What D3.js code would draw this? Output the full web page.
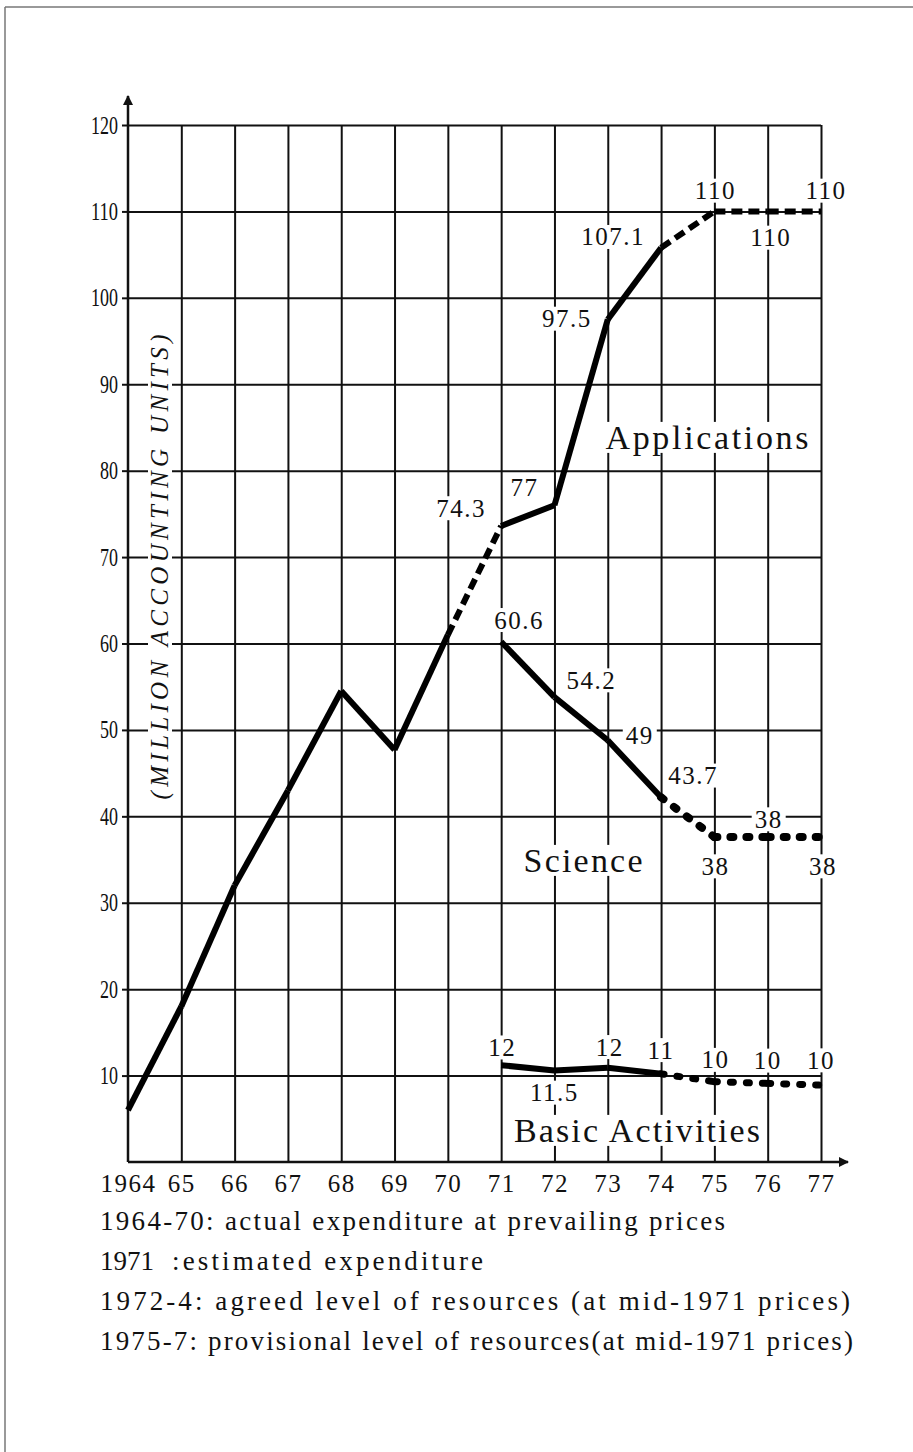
<!DOCTYPE html>
<html>
<head>
<meta charset="utf-8">
<script src="https://cdn.jsdelivr.net/npm/d3@7"></script>
<style>
  body { margin: 0; background: #fff; }
  svg { display: block; }
  text { font-family: "Liberation Serif", "DejaVu Serif", serif; fill: #111; }
</style>
</head>
<body>
<div id="chart"></div>
<script>
// ---- data ----
const years = [1964, 1965, 1966, 1967, 1968, 1969, 1970, 1971, 1972, 1973, 1974, 1975, 1976, 1977];
const yearLabels = ["1964", "65", "66", "67", "68", "69", "70", "71", "72", "73", "74", "75", "76", "77"];
const yTicks = [10, 20, 30, 40, 50, 60, 70, 80, 90, 100, 110, 120];

const applications = [6, 18, 32, 43, 54.5, 47.7, 61, 73.6, 76, 97.5, 105.8, 110, 110, 110];
// style of each stretch between two years: s = solid, d = dashed, o = dotted
const applicationsStyle = ["s", "s", "s", "s", "s", "s", "d", "s", "s", "s", "d", "d", "d"];

const laterYears = [1971, 1972, 1973, 1974, 1975, 1976, 1977];
const science = [60.2, 53.8, 48.8, 42.2, 37.6, 37.6, 37.6];
const scienceStyle = ["s", "s", "s", "o", "o", "o"];
const basic = [11.2, 10.6, 10.9, 10.2, 9.3, 9.1, 8.9];
const basicStyle = ["s", "s", "s", "o", "o", "o"];

// value labels: [year, text]
const applicationsLabels = [[1971, "74.3"], [1972, "77"], [1973, "97.5"], [1974, "107.1"], [1975, "110"], [1976, "110"], [1977, "110"]];
const scienceLabels = [[1971, "60.6"], [1972, "54.2"], [1973, "49"], [1974, "43.7"], [1975, "38"], [1976, "38"], [1977, "38"]];
const basicLabels = [[1971, "12"], [1972, "11.5"], [1973, "12"], [1974, "11"], [1975, "10"], [1976, "10"], [1977, "10"]];

const notes = [
    "1964-70: actual expenditure at prevailing prices",
    "1972-4: agreed level of resources (at mid-1971 prices)",
    "1975-7: provisional level of resources(at mid-1971 prices)"
];

// ---- layout ----
var width = 913, height = 1452
var plotLeft = 128, plotRight = 821, plotTop = 125, plotBottom = 1162

var x = d3.scaleLinear().domain([1964, 1977]).range([plotLeft, plotRight])
var y = d3.scaleLinear().domain([0, 120]).range([plotBottom, plotTop])

var svg = d3.select("#chart").append("svg")
    .attr("width", width)
    .attr("height", height)

svg.append("rect").attr("width", width).attr("height", height).attr("fill", "#fff")

// page border (top and left only, like the scan)
svg.append("line").attr("x1", 5).attr("y1", 7).attr("x2", width).attr("y2", 7)
    .attr("stroke", "#777").attr("stroke-width", 1.5)
svg.append("line").attr("x1", 5).attr("y1", 7).attr("x2", 5).attr("y2", height)
    .attr("stroke", "#777").attr("stroke-width", 1.5)

// grid
svg.append("g")
    .attr("transform", "translate(" + plotLeft + ",0)")
    .call(d3.axisLeft(y).tickValues(yTicks).tickSize(-(plotRight - plotLeft)).tickFormat(""))
    .call(g => g.select(".domain").remove())
    .selectAll("line").attr("stroke", "#111").attr("stroke-width", 2)

svg.append("g")
    .attr("transform", "translate(0," + plotBottom + ")")
    .call(d3.axisBottom(x).tickValues(years.slice(1)).tickSize(-(plotBottom - plotTop)).tickFormat(""))
    .call(g => g.select(".domain").remove())
    .selectAll("line").attr("stroke", "#111").attr("stroke-width", 2)

// white box behind a text so the grid breaks around it
function knockout(parent, textSel, pad) {
    var b = textSel.node().getBBox()
    parent.insert("rect", function () { return textSel.node() })
        .attr("x", b.x - pad).attr("y", b.y + pad * 0.5)
        .attr("width", b.width + 2 * pad).attr("height", b.height - pad)
        .attr("fill", "#fff")
}

// axes with arrows
svg.append("defs").append("marker")
    .attr("id", "arrow").attr("viewBox", "0 0 10 10")
    .attr("refX", 9).attr("refY", 5)
    .attr("markerWidth", 5).attr("markerHeight", 4)
    .attr("orient", "auto")
    .append("path").attr("d", "M0,0L10,5L0,10z").attr("fill", "#111")

svg.append("line").attr("x1", plotLeft).attr("y1", plotBottom).attr("x2", plotLeft).attr("y2", 96)
    .attr("stroke", "#111").attr("stroke-width", 2.5).attr("marker-end", "url(#arrow)")
svg.append("line").attr("x1", plotLeft).attr("y1", plotBottom).attr("x2", 848).attr("y2", plotBottom)
    .attr("stroke", "#111").attr("stroke-width", 2.5).attr("marker-end", "url(#arrow)")

// tick labels (narrow, tall digits like the scan)
var yAxis = svg.append("g")
    .attr("transform", "translate(" + plotLeft + ",0)")
    .call(d3.axisLeft(y).tickValues(yTicks).tickSize(6).tickPadding(4))
yAxis.select(".domain").remove()
yAxis.selectAll("line").attr("stroke", "#111").attr("stroke-width", 2)
yAxis.selectAll("text")
    .attr("fill", "#111")
    .attr("textLength", d => String(d).length * 9)
    .attr("lengthAdjust", "spacingAndGlyphs")
    .style("font-family", '"Liberation Serif", serif')
    .style("font-size", "25px")

var xAxis = svg.append("g")
    .attr("transform", "translate(0," + plotBottom + ")")
    .call(d3.axisBottom(x).tickValues(years).tickSize(0).tickPadding(12)
        .tickFormat((d, i) => yearLabels[i]))
xAxis.select(".domain").remove()
xAxis.selectAll("text")
    .attr("fill", "#111")
    .style("font-family", '"Liberation Serif", serif')
    .style("font-size", "25px")
    .style("letter-spacing", "1.5px")

// y axis title
var titleG = svg.append("g").attr("transform", "translate(168,567) rotate(-90)")
var title = titleG.append("text")
    .attr("text-anchor", "middle")
    .attr("textLength", 465)
    .attr("lengthAdjust", "spacing")
    .style("font-size", "25px")
    .style("font-style", "italic")
    .text("(MILLION ACCOUNTING UNITS)")
knockout(titleG, title, 4)

// series names
function bigLabel(txt, cx, cy, len) {
    var t = svg.append("text")
        .attr("x", cx).attr("y", cy)
        .attr("text-anchor", "middle")
        .attr("dy", "0.35em")
        .attr("textLength", len)
        .attr("lengthAdjust", "spacing")
        .style("font-size", "34px")
        .text(txt)
    knockout(svg, t, 6)
}

bigLabel("Applications", 707, 437, 203)
bigLabel("Science", 583, 860, 119)
bigLabel("Basic Activities", 637, 1130, 246)

// value labels, offsets from the point they describe
function drawLabels(labels, xs, values, offsets) {
    labels.forEach(function (l, i) {
        var v = values[xs.indexOf(l[0])]
        var t = svg.append("text")
            .attr("x", x(l[0]) + offsets[i][0])
            .attr("y", y(v) + offsets[i][1])
            .attr("text-anchor", "middle")
            .attr("dy", "0.35em")
            .style("font-size", "25px")
            .style("letter-spacing", "1.5px")
            .text(l[1])
        knockout(svg, t, 3)
    })
}

drawLabels(applicationsLabels, years, applications,
    [[-40, -18], [-30, -18], [-41, -1], [-48, -11], [1, -21], [3, 26], [5, -21]])
drawLabels(scienceLabels, laterYears, science,
    [[18, -22], [37, -17], [32, -5], [32, -22], [1, 29], [1, -18], [2, 29]])
drawLabels(basicLabels, laterYears, basic,
    [[1, -18], [0, 22], [2, -21], [0, -24], [1, -22], [0, -23], [0, -25]])

// series
var dashes = {s: null, d: "11,6", o: "3,13"}

function drawSeries(xs, values, styles, dotWidth) {
    for (let i = 0; i < styles.length; i++) {
        var pts = [[xs[i], values[i]], [xs[i + 1], values[i + 1]]]
        svg.append("path")
            .datum(pts)
            .attr("d", d3.line().x(d => x(d[0])).y(d => y(d[1])))
            .attr("fill", "none")
            .attr("stroke", "#000")
            .attr("stroke-width", styles[i] == "o" ? dotWidth : 6)
            .attr("stroke-linecap", styles[i] == "o" ? "round" : "butt")
            .attr("stroke-linejoin", "round")
            .attr("stroke-dasharray", dashes[styles[i]])
    }
}

drawSeries(years, applications, applicationsStyle, 6)
drawSeries(laterYears, science, scienceStyle, 8)
drawSeries(laterYears, basic, basicStyle, 7)

// notes under the chart
var noteLen = [625, 750, 753]
var noteY = [1230, 1310, 1350]
notes.forEach(function (n, i) {
    svg.append("text")
        .attr("x", 100).attr("y", noteY[i])
        .attr("textLength", noteLen[i])
        .attr("lengthAdjust", "spacing")
        .style("font-size", "27px")
        .text(n)
})
svg.append("text").attr("x", 100).attr("y", 1270)
    .style("font-size", "27px").text("1971")
svg.append("text").attr("x", 172).attr("y", 1270)
    .attr("textLength", 311).attr("lengthAdjust", "spacing")
    .style("font-size", "27px").text(":estimated  expenditure")
</script>
</body>
</html>
